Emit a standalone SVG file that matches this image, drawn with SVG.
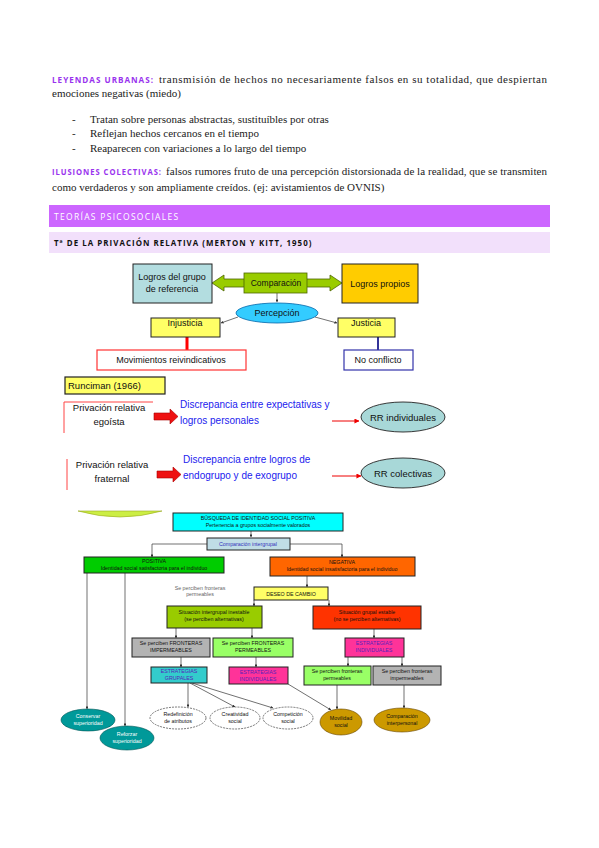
<svg xmlns="http://www.w3.org/2000/svg" width="599" height="848" viewBox="0 0 599 848">
<style>
.body{font-family:"Liberation Serif",serif;font-size:11px;fill:#222}
.lbl{font-family:"Open Sans","Liberation Sans",sans-serif;font-weight:bold;font-size:8px;letter-spacing:1px;fill:#9933ee}
.d{font-family:"Liberation Sans",Arial,sans-serif;fill:#111}
.s{font-family:"Liberation Sans",Arial,sans-serif;font-size:5.3px;fill:#111;text-anchor:middle}
.bx{stroke:#222;stroke-width:1}
.cn{stroke:#333;stroke-width:0.7;fill:none}
</style>
<defs>
<marker id="ah" viewBox="0 0 6 6" refX="5.5" refY="3" markerWidth="4" markerHeight="4" orient="auto"><path d="M0,0L6,3L0,6z" fill="#333"/></marker>
<marker id="ahr" viewBox="0 0 6 6" refX="5.5" refY="3" markerWidth="5" markerHeight="5" orient="auto"><path d="M0,0L6,3L0,6z" fill="#e00"/></marker>
</defs>
<rect width="599" height="848" fill="#fff"/>

<g id="text-top">
<text class="lbl" x="52" y="83" textLength="102" lengthAdjust="spacingAndGlyphs">LEYENDAS URBANAS:</text>
<text class="body" x="159" y="83" textLength="388" lengthAdjust="spacing">transmisión de hechos no necesariamente falsos en su totalidad, que despiertan</text>
<text class="body" x="52" y="97">emociones negativas (miedo)</text>
<text class="body" x="72" y="123">-</text><text class="body" x="90" y="123">Tratan sobre personas abstractas, sustituíbles por otras</text>
<text class="body" x="72" y="137">-</text><text class="body" x="90" y="137">Reflejan hechos cercanos en el tiempo</text>
<text class="body" x="72" y="152">-</text><text class="body" x="90" y="152">Reaparecen con variaciones a lo largo del tiempo</text>
<text class="lbl" x="52" y="175" textLength="110" lengthAdjust="spacingAndGlyphs">ILUSIONES COLECTIVAS:</text>
<text class="body" x="166" y="175" textLength="381" lengthAdjust="spacing">falsos rumores fruto de una percepción distorsionada de la realidad, que se transmiten</text>
<text class="body" x="52" y="191">como verdaderos y son ampliamente creídos. (ej: avistamientos de OVNIS)</text>
</g>

<g id="header1">
<rect x="49" y="205" width="501" height="22" fill="#cc66ff"/>
<text x="54" y="220" font-family="'Open Sans','Liberation Sans',sans-serif" font-size="8.5" letter-spacing="1.3" fill="#fff">TEORÍAS PSICOSOCIALES</text>
</g>
<g id="header2">
<rect x="49" y="232" width="501" height="21" fill="#f2e0fb"/>
<text x="54" y="246" font-family="'Open Sans','Liberation Sans',sans-serif" font-weight="bold" font-size="7.9" letter-spacing="1.05" fill="#111">Tª DE LA PRIVACIÓN RELATIVA (MERTON Y KITT, 1950)</text>
</g>

<!-- Diagram 1 -->
<g id="connectors1">
<polygon points="212,283 224,275 224,279 330,279 330,275 342,283 330,291 330,287 224,287 224,291" fill="#99cc00" stroke="#4d6600" stroke-width="0.8"/>
<line x1="277" y1="293" x2="277" y2="302" class="cn" marker-end="url(#ah)"/>
<line x1="238" y1="317" x2="221" y2="323" class="cn" marker-end="url(#ah)"/>
<line x1="315" y1="317" x2="337" y2="323" class="cn" marker-end="url(#ah)"/>
<line x1="187" y1="337" x2="187" y2="350" stroke="#ff0000" stroke-width="3"/>
<line x1="378" y1="337" x2="378" y2="350" stroke="#333399" stroke-width="2"/>
</g>
<g id="logros-grupo"><rect x="133" y="264" width="79" height="39" fill="#b3dde0" class="bx"/><text class="d" font-size="9" text-anchor="middle" x="172" y="280">Logros del grupo</text><text class="d" font-size="9" text-anchor="middle" x="172" y="292">de referencia</text></g>
<g id="comparacion"><rect x="244" y="273" width="63" height="20" fill="#99cc00" stroke="#4d6600" stroke-width="0.8"/><text class="d" font-size="8.5" text-anchor="middle" x="276" y="286">Comparación</text></g>
<g id="logros-propios"><rect x="342" y="264" width="76" height="39" fill="#ffcc00" class="bx"/><text class="d" font-size="9" text-anchor="middle" x="380" y="287">Logros propios</text></g>
<g id="percepcion"><ellipse cx="277" cy="313" rx="41" ry="10" fill="#33ccff" stroke="#0066aa" stroke-width="0.8"/><text class="d" font-size="9" text-anchor="middle" x="277" y="316">Percepción</text></g>
<g id="injusticia"><rect x="151" y="318" width="69" height="19" fill="#ffff66" class="bx"/><text class="d" font-size="9" text-anchor="middle" x="185" y="326">Injusticia</text></g>
<g id="justicia"><rect x="338" y="318" width="57" height="19" fill="#ffff66" class="bx"/><text class="d" font-size="9" text-anchor="middle" x="366" y="326">Justicia</text></g>
<g id="movimientos"><rect x="97" y="350" width="149" height="20" fill="#fff" stroke="#ff3333" stroke-width="1.2"/><text class="d" font-size="9" text-anchor="middle" x="171" y="363">Movimientos reivindicativos</text></g>
<g id="noconflicto"><rect x="344" y="350" width="69" height="20" fill="#fff" stroke="#3333aa" stroke-width="1.2"/><text class="d" font-size="9" text-anchor="middle" x="378" y="363">No conflicto</text></g>

<!-- Runciman -->
<g id="runciman"><rect x="65" y="377" width="100" height="17" fill="#ffff66" stroke="#222" stroke-width="1.2"/><text class="d" font-size="9.5" x="68" y="389">Runciman (1966)</text></g>
<g id="connectors2">
<polygon points="154,413 170,413 170,409 178,416.5 170,424 170,420 154,420" fill="#ee1111" stroke="#aa0000" stroke-width="0.6"/>
<polygon points="157,471 173,471 173,467 181,474.5 173,482 173,478 157,478" fill="#ee1111" stroke="#aa0000" stroke-width="0.6"/>
<line x1="332" y1="421" x2="359" y2="421" stroke="#e00" stroke-width="1" marker-end="url(#ahr)"/>
<line x1="332" y1="476" x2="361" y2="476" stroke="#e00" stroke-width="1" marker-end="url(#ahr)"/>
</g>
<g id="egoista"><path d="M64,433 V402 H153" fill="none" stroke="#ff4444" stroke-width="1"/><text class="d" font-size="9.5" text-anchor="middle" x="109" y="411">Privación relativa</text><text class="d" font-size="9.5" text-anchor="middle" x="109" y="425">egoísta</text></g>
<g id="disc1"><text class="d" font-size="10" style="fill:#2222ee" x="180" y="408">Discrepancia entre expectativas y</text><text class="d" font-size="10" style="fill:#2222ee" x="180" y="424">logros personales</text></g>
<g id="rr-ind"><ellipse cx="403" cy="417" rx="42" ry="15" fill="#a8d8d8" stroke="#222" stroke-width="0.9"/><text class="d" font-size="9.5" text-anchor="middle" x="403" y="421">RR individuales</text></g>
<g id="fraternal"><line x1="67" y1="459" x2="67" y2="490" stroke="#ff4444" stroke-width="1"/><text class="d" font-size="9.5" text-anchor="middle" x="112" y="468">Privación relativa</text><text class="d" font-size="9.5" text-anchor="middle" x="112" y="482">fraternal</text></g>
<g id="disc2"><text class="d" font-size="10" style="fill:#2222ee" x="183" y="463">Discrepancia entre logros de</text><text class="d" font-size="10" style="fill:#2222ee" x="183" y="479">endogrupo y de exogrupo</text></g>
<g id="rr-col"><ellipse cx="403" cy="473" rx="42" ry="15" fill="#a8d8d8" stroke="#222" stroke-width="0.9"/><text class="d" font-size="9.5" text-anchor="middle" x="403" y="477">RR colectivas</text></g>

<!-- Bottom diagram -->
<g id="blob"><path d="M78,511 Q120,523 162,511 Z" fill="#ccee44" stroke="#99aa22" stroke-width="0.6"/></g>
<g id="connectors3">
<line x1="251" y1="531" x2="251" y2="537" class="cn" marker-end="url(#ah)"/>
<path d="M207,544 H152 V557" class="cn" marker-end="url(#ah)"/>
<path d="M290,544 H342 V557" class="cn" marker-end="url(#ah)"/>
<line x1="307" y1="576" x2="307" y2="587" class="cn" marker-end="url(#ah)"/>
<path d="M254,600 V606" class="cn" marker-end="url(#ah)"/>
<path d="M329,600 V606" class="cn" marker-end="url(#ah)"/>
<line x1="176" y1="628" x2="176" y2="638" class="cn" marker-end="url(#ah)"/>
<line x1="252" y1="628" x2="252" y2="638" class="cn" marker-end="url(#ah)"/>
<line x1="374" y1="629" x2="374" y2="638" class="cn" marker-end="url(#ah)"/>
<line x1="181" y1="657" x2="181" y2="667" class="cn" marker-end="url(#ah)"/>
<line x1="256" y1="657" x2="256" y2="667" class="cn" marker-end="url(#ah)"/>
<line x1="348" y1="657" x2="348" y2="666" class="cn" marker-end="url(#ah)"/>
<line x1="402" y1="657" x2="402" y2="666" class="cn" marker-end="url(#ah)"/>
<line x1="337" y1="685" x2="337" y2="709" class="cn" marker-end="url(#ah)"/>
<line x1="404" y1="685" x2="404" y2="708" class="cn" marker-end="url(#ah)"/>
<line x1="288" y1="684" x2="331" y2="710" class="cn" marker-end="url(#ah)"/>
<line x1="188" y1="683" x2="188" y2="707" class="cn" marker-end="url(#ah)"/>
<line x1="190" y1="683" x2="235" y2="707" class="cn" marker-end="url(#ah)"/>
<line x1="192" y1="683" x2="273" y2="708" class="cn" marker-end="url(#ah)"/>
<line x1="87" y1="573" x2="87" y2="709" class="cn" marker-end="url(#ah)"/>
<line x1="125" y1="573" x2="125" y2="726" class="cn" marker-end="url(#ah)"/>
</g>
<g id="busqueda"><rect x="173" y="513" width="170" height="18" fill="#00ffff" class="bx"/><text class="s" x="258" y="520">BÚSQUEDA DE IDENTIDAD SOCIAL POSITIVA</text><text class="s" x="258" y="527">Pertenencia a grupos socialmente valorados</text></g>
<g id="comp-inter"><rect x="207" y="538" width="83" height="12" fill="#c0dde6" class="bx"/><text class="s" style="fill:#3333bb" x="248" y="546">Comparación intergrupal</text></g>
<g id="positiva"><rect x="84" y="557" width="140" height="16" fill="#00cc00" class="bx"/><text class="s" x="154" y="563">POSITIVA</text><text class="s" x="154" y="570">Identidad social satisfactoria para el individuo</text></g>
<g id="negativa"><rect x="270" y="557" width="145" height="19" fill="#ff6600" class="bx"/><text class="s" x="342" y="564">NEGATIVA</text><text class="s" x="342" y="571">Identidad social insatisfactoria para el individuo</text></g>
<g id="nota"><text class="s" style="fill:#666" x="200" y="590">Se perciben fronteras</text><text class="s" style="fill:#666" x="200" y="596">permeables</text></g>
<g id="deseo"><rect x="254" y="587" width="74" height="13" fill="#ffff66" class="bx"/><text class="s" x="291" y="595.5">DESEO DE CAMBIO</text></g>
<g id="inestable"><rect x="167" y="606" width="95" height="22" fill="#99cc00" class="bx"/><text class="s" x="214" y="614">Situación intergrupal inestable</text><text class="s" x="214" y="621">(se perciben alternativas)</text></g>
<g id="estable"><rect x="313" y="606" width="108" height="23" fill="#ff3300" class="bx"/><text class="s" x="367" y="614">Situación grupal estable</text><text class="s" x="367" y="621">(no se perciben alternativas)</text></g>
<g id="imperm1"><rect x="132" y="638" width="78" height="19" fill="#b3b3b3" class="bx"/><text class="s" x="171" y="645">Se perciben FRONTERAS</text><text class="s" x="171" y="652">IMPERMEABLES</text></g>
<g id="perm1"><rect x="213" y="638" width="80" height="19" fill="#99ff66" class="bx"/><text class="s" x="253" y="645">Se perciben FRONTERAS</text><text class="s" x="253" y="652">PERMEABLES</text></g>
<g id="est-ind-r"><rect x="345" y="638" width="59" height="19" fill="#ff3399" class="bx"/><text class="s" style="fill:#5522bb" x="374" y="645">ESTRATEGIAS</text><text class="s" style="fill:#5522bb" x="374" y="652">INDIVIDUALES</text></g>
<g id="est-grup"><rect x="151" y="667" width="56" height="16" fill="#33cccc" class="bx"/><text class="s" style="fill:#5522bb" x="179" y="673">ESTRATEGIAS</text><text class="s" style="fill:#5522bb" x="179" y="680">GRUPALES</text></g>
<g id="est-ind"><rect x="229" y="667" width="59" height="17" fill="#ff3399" class="bx"/><text class="s" style="fill:#5522bb" x="258" y="674">ESTRATEGIAS</text><text class="s" style="fill:#5522bb" x="258" y="681">INDIVIDUALES</text></g>
<g id="perm2"><rect x="304" y="666" width="67" height="19" fill="#99ff66" class="bx"/><text class="s" x="337" y="673">Se perciben fronteras</text><text class="s" x="337" y="680">permeables</text></g>
<g id="imperm2"><rect x="373" y="666" width="68" height="19" fill="#b3b3b3" class="bx"/><text class="s" x="407" y="673">Se perciben fronteras</text><text class="s" x="407" y="680">impermeables</text></g>
<g id="conservar"><ellipse cx="88" cy="720" rx="27" ry="11" fill="#009999" stroke="#005555" stroke-width="0.6"/><text class="s" style="fill:#fff" x="88" y="718">Conservar</text><text class="s" style="fill:#fff" x="88" y="725">superioridad</text></g>
<g id="reforzar"><ellipse cx="127" cy="738" rx="27" ry="12" fill="#009999" stroke="#005555" stroke-width="0.6"/><text class="s" style="fill:#fff" x="127" y="736">Reforzar</text><text class="s" style="fill:#fff" x="127" y="743">superioridad</text></g>
<g id="redef"><ellipse cx="178" cy="718" rx="28" ry="11" fill="#fff" stroke="#222" stroke-width="0.6" stroke-dasharray="2,1"/><text class="s" x="178" y="716">Redefinición</text><text class="s" x="178" y="723">de atributos</text></g>
<g id="creat"><ellipse cx="235" cy="718" rx="25" ry="11" fill="#fff" stroke="#222" stroke-width="0.6" stroke-dasharray="2,1"/><text class="s" x="235" y="716">Creatividad</text><text class="s" x="235" y="723">social</text></g>
<g id="compet"><ellipse cx="288" cy="718" rx="25" ry="11" fill="#fff" stroke="#222" stroke-width="0.6" stroke-dasharray="2,1"/><text class="s" x="288" y="716">Competición</text><text class="s" x="288" y="723">social</text></g>
<g id="movilidad"><ellipse cx="341" cy="722" rx="21" ry="13" fill="#cc9900" stroke="#664400" stroke-width="0.6"/><text class="s" x="341" y="720">Movilidad</text><text class="s" x="341" y="727">social</text></g>
<g id="interpersonal"><ellipse cx="402" cy="720" rx="28" ry="12" fill="#cc9900" stroke="#664400" stroke-width="0.6"/><text class="s" x="402" y="718">Comparación</text><text class="s" x="402" y="725">interpersonal</text></g>
</svg>
